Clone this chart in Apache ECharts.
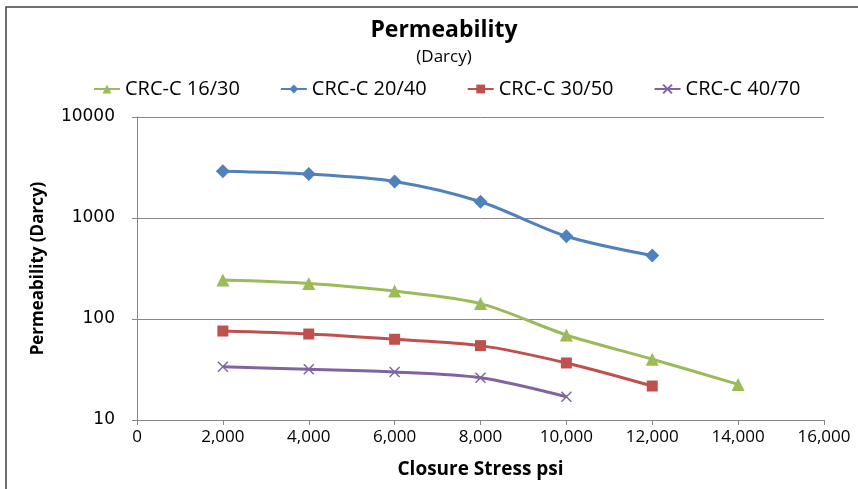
<!DOCTYPE html>
<html>
<head>
<meta charset="utf-8">
<script src="https://cdn.jsdelivr.net/npm/echarts@6/dist/echarts.min.js"></script>
<style>html,body{margin:0;padding:0;background:#fff}#c{width:858px;height:489px}</style>
</head>
<body>
<div id="c"></div>
<script>
const stress = [2000, 4000, 6000, 8000, 10000, 12000, 14000];
const seriesNames = ['CRC-C 16/30', 'CRC-C 20/40', 'CRC-C 30/50', 'CRC-C 40/70'];
const crc1630 = [243, 225, 189, 142, 69.5, 40, 22.5];
const crc2040 = [2900, 2720, 2300, 1450, 660, 425];
const crc3050 = [76, 71, 63, 54.5, 36.7, 21.7];
const crc4070 = [33.7, 31.8, 29.9, 26.2, 17];
const yTicks = [10, 100, 1000, 10000];

const colors = ['#9BBB59', '#4F81BD', '#C0504D', '#8064A2'];
const symbols = ['triangle', 'diamond', 'rect', 'path://M0,0L10,10M10,0L0,10'];
const sizes = [13, 14, 11, 10];
const datas = [crc1630, crc2040, crc3050, crc4070];

const chart = echarts.init(document.getElementById('c'));
const font = 'Open Sans, Noto Sans, sans-serif';
chart.setOption({
  animation: false,
  graphic: [
    {type: 'polyline', shape: {points: [[6, 489], [6, 7], [858, 7]]}, style: {stroke: '#404040', lineWidth: 1.5, fill: null}}
  ],
  title: {
    text: 'Permeability', subtext: '(Darcy)', left: 439, top: 14, textAlign: 'center', itemGap: 7,
    textStyle: {fontFamily: font, fontWeight: 'bold', fontSize: 23, color: '#000'},
    subtextStyle: {fontFamily: font, fontSize: 17, color: '#000'}
  },
  legend: {
    top: 74, left: 88, itemGap: 40, itemWidth: 26, itemHeight: 11,
    textStyle: {fontFamily: font, fontSize: 20, color: '#000'},
    data: seriesNames
  },
  grid: {left: 137, right: 34, top: 117, bottom: 69, containLabel: false},
  xAxis: {
    type: 'value', min: 0, max: 16000, interval: 2000,
    name: 'Closure Stress psi', nameLocation: 'middle', nameGap: 40,
    nameTextStyle: {fontFamily: font, fontWeight: 'bold', fontSize: 19, color: '#000'},
    axisLine: {show: true, lineStyle: {color: '#868686'}},
    axisTick: {show: true, inside: false, length: 5, lineStyle: {color: '#868686'}},
    splitLine: {show: false},
    axisLabel: {fontFamily: font, fontSize: 17, color: '#000', margin: 9,
      formatter: v => v.toLocaleString('en-US')}
  },
  yAxis: {
    type: 'log', logBase: 10, min: yTicks[0], max: yTicks[yTicks.length - 1],
    name: 'Permeability (Darcy)', nameLocation: 'middle', nameGap: 90, nameRotate: 90,
    nameTextStyle: {fontFamily: font, fontWeight: 'bold', fontSize: 17, color: '#000'},
    axisLine: {show: true, lineStyle: {color: '#868686'}},
    axisTick: {show: true, length: 5, lineStyle: {color: '#868686'}},
    splitLine: {show: true, lineStyle: {color: '#868686', width: 1}},
    minorTick: {show: false},
    axisLabel: {fontFamily: 'DejaVu Sans, sans-serif', fontSize: 17, color: '#000', margin: 22,
      formatter: v => String(Math.round(v))}
  },
  series: seriesNames.map((n, i) => ({
    name: n, type: 'line', smooth: 0.3,
    data: datas[i].map((v, j) => [stress[j], v]),
    symbol: symbols[i], symbolSize: sizes[i], showSymbol: true,
    lineStyle: {color: colors[i], width: 3},
    itemStyle: {color: colors[i], borderColor: colors[i], borderWidth: i === 3 ? 1.5 : 0}
  }))
});
</script>
</body>
</html>
